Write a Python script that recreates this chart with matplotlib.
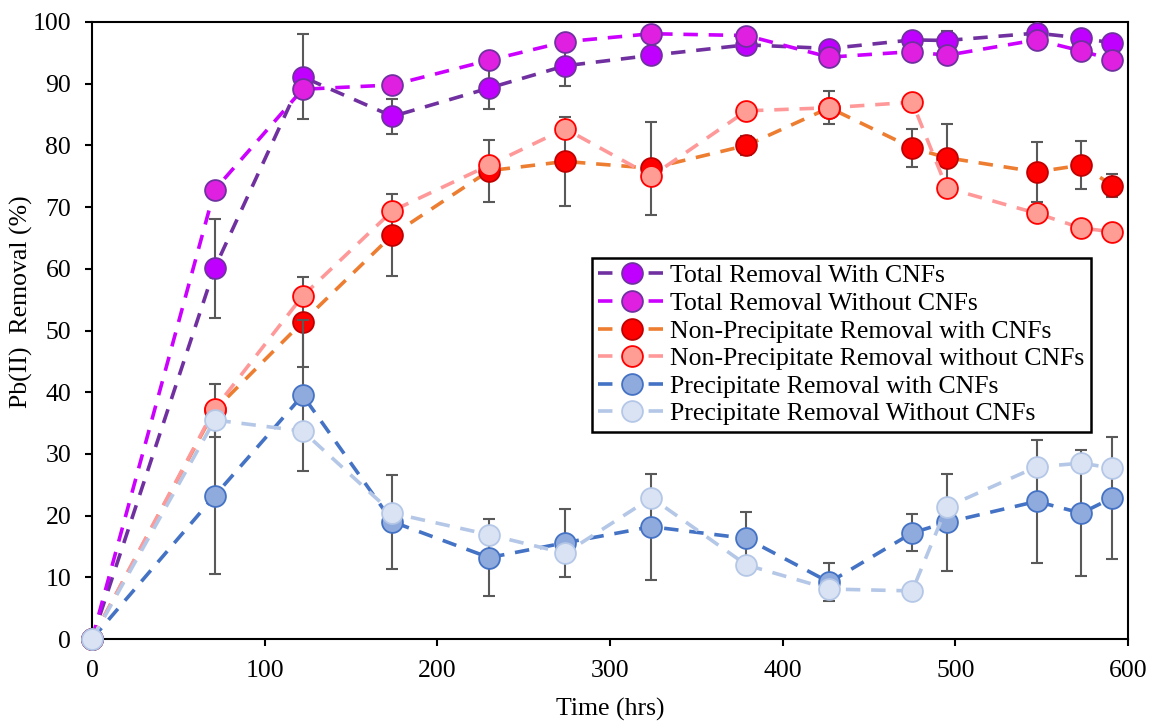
import numpy as np
import matplotlib
matplotlib.use("Agg")
import matplotlib.pyplot as plt

plt.rcParams['font.family'] = ['Liberation Serif', 'DejaVu Serif']
plt.rcParams['font.size'] = 18.5

# Data
time_hrs = [0, 71, 122, 174, 230, 274, 324, 379, 427, 475, 495, 547, 573, 591]

total_with = [0, 60.1, 91.1, 84.7, 89.3, 92.9, 94.6, 96.3, 95.7, 97.1, 97.0, 98.2, 97.4, 96.6]
total_with_err = [0, 8.0, 6.9, 2.9, 3.4, 3.2, 0.8, 1.0, 1.0, 1.2, 1.6, 0.8, 1.1, 0.8]
total_without = [0, 72.8, 89.1, 89.8, 93.8, 96.8, 98.1, 97.8, 94.3, 95.2, 94.6, 97.1, 95.3, 93.9]

nonprec_with = [0, 37.1, 51.4, 65.5, 75.9, 77.4, 76.3, 80.0, 86.1, 79.6, 78.0, 75.7, 76.8, 73.5]
nonprec_with_err = [0, 4.3, 7.3, 6.6, 5.0, 7.2, 7.5, 1.6, 2.7, 3.1, 5.4, 4.8, 3.9, 1.9]
nonprec_without = [0, 37.3, 55.6, 69.4, 76.8, 82.7, 75.0, 85.6, 86.1, 87.0, 73.1, 69.0, 66.6, 66.0]

prec_with = [0, 23.2, 39.5, 19.0, 13.2, 15.6, 18.2, 16.3, 9.2, 17.2, 18.9, 22.3, 20.4, 22.9]
prec_with_err = [0, 12.6, 12.2, 7.6, 6.2, 5.5, 8.6, 4.3, 3.05, 3.0, 7.9, 10.0, 10.2, 9.9]
prec_without = [0, 35.5, 33.7, 20.4, 16.9, 13.9, 22.9, 12.0, 8.1, 7.8, 21.4, 27.9, 28.5, 27.7]

# label, values, errors, line colour, marker face, marker edge
series = [
    ("Total Removal With CNFs", total_with, total_with_err, "#7030A0", "#C000FF", "#7030A0"),
    ("Total Removal Without CNFs", total_without, None, "#CC00FF", "#E020E0", "#7030A0"),
    ("Non-Precipitate Removal with CNFs", nonprec_with, nonprec_with_err, "#ED7D31", "#FF0000", "#C00000"),
    ("Non-Precipitate Removal without CNFs", nonprec_without, None, "#FF9999", "#FF9C94", "#FF0000"),
    ("Precipitate Removal with CNFs", prec_with, prec_with_err, "#4472C4", "#8FAADC", "#4472C4"),
    ("Precipitate Removal Without CNFs", prec_without, None, "#B4C7E7", "#DAE3F3", "#B4C7E7"),
]

fig = plt.figure(figsize=(11.52, 7.21), dpi=100)
ax = fig.add_axes([0.0799, 0.1137, 0.8993, 0.8558])

z = 2
for label, vals, err, lc, mfc, mec in series:
    if err is not None:
        ax.errorbar(time_hrs, vals, yerr=err, fmt='none', ecolor='#595959',
                    elinewidth=1.5, capsize=4.2, capthick=1.5, zorder=z)
    ax.plot(time_hrs, vals, linestyle=(0, (4, 3)), linewidth=2.6, color=lc,
            marker='o', markersize=15, markerfacecolor=mfc, markeredgecolor=mec,
            markeredgewidth=1.3, label=label, zorder=z + 1, clip_on=False)
    z += 2

ax.set_xlim(0, 600)
ax.set_ylim(0, 100)
ax.set_xticks(np.arange(0, 601, 100))
ax.set_yticks(np.arange(0, 101, 10))
ax.tick_params(direction='out', length=5, width=1.5, pad=10, labelsize=18.5)
for s in ax.spines.values():
    s.set_linewidth(1.5)

ax.set_xlabel("Time (hrs)", fontsize=18.5)
ax.xaxis.set_label_coords(0.5, -0.095)
ax.set_ylabel("Pb(II)  Removal (%)", fontsize=18.5)
ax.yaxis.set_label_coords(-0.057, 0.546)

leg = ax.legend(loc='upper left', bbox_to_anchor=(0.4826, 0.6175), borderaxespad=0,
                fontsize=18.5, labelspacing=0.18, handlelength=2.6, handletextpad=0.2,
                borderpad=0.25, fancybox=False, framealpha=1, edgecolor='black')
leg.get_frame().set_linewidth(1.8)
leg.set_zorder(20)

fig.savefig("out.png", dpi=100)
